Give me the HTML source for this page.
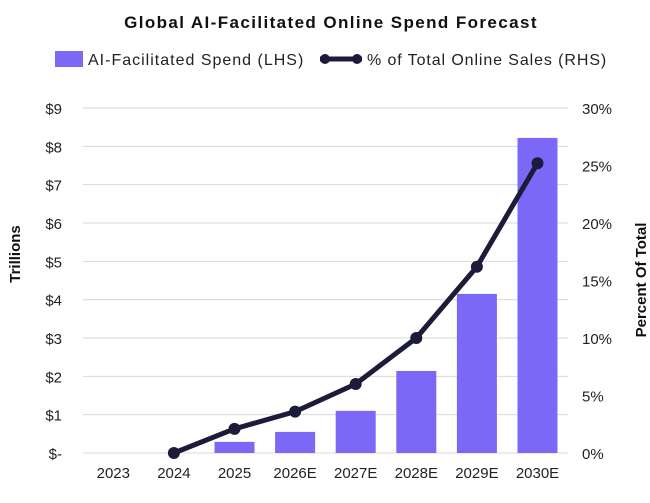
<!DOCTYPE html>
<html><head><meta charset="utf-8"><style>
body{margin:0;background:#fff;width:650px;height:498px;overflow:hidden;font-family:"Liberation Sans",sans-serif}
</style></head><body>
<svg id="c" width="650" height="498" font-family="Liberation Sans, sans-serif">
<text x="331" y="28" text-anchor="middle" font-size="17" letter-spacing="1.4" font-weight="bold" fill="#111">Global AI-Facilitated Online Spend Forecast</text>
<g>
<rect x="55" y="51" width="28" height="16" fill="#7b68f7"/>
<text x="88" y="65" font-size="16" letter-spacing="1" fill="#222">AI-Facilitated Spend (LHS)</text>
<line x1="320" y1="59" x2="362" y2="59" stroke="#1c1b3a" stroke-width="5"/>
<circle cx="325" cy="59" r="5" fill="#1c1b3a"/><circle cx="357" cy="59" r="5" fill="#1c1b3a"/>
<text x="367" y="65" font-size="16" letter-spacing="0.9" fill="#222">% of Total Online Sales (RHS)</text>
</g>
<text transform="translate(20,254) rotate(-90)" text-anchor="middle" font-size="15" font-weight="bold" fill="#111">Trillions</text>
<text transform="translate(646,280) rotate(-90)" text-anchor="middle" font-size="15" font-weight="bold" fill="#111">Percent Of Total</text>
<g id="grid"></g><g id="bars"></g><g id="line"></g><g id="axes"></g>
</svg>
<script>
const categories=["2023","2024","2025","2026E","2027E","2028E","2029E","2030E"];
const spend=[0,0,0.29,0.55,1.1,2.14,4.15,8.22];
const pct=[null,0,2.1,3.6,6.0,10.0,16.2,25.2];
const leftTicks=["$-","$1","$2","$3","$4","$5","$6","$7","$8","$9"];
const rightTicks=["0%","5%","10%","15%","20%","25%","30%"];
const NS="http://www.w3.org/2000/svg";
const y0=453,y1=108,x0=83,step=60.6;
const yL=v=>y0-(v/9)*(y0-y1);
const yR=v=>y0-(v/30)*(y0-y1);
const xC=i=>x0+step*(i+0.5);
function mk(tag,attrs,parent){const e=document.createElementNS(NS,tag);for(const k in attrs)e.setAttribute(k,attrs[k]);document.getElementById(parent).appendChild(e);return e;}
leftTicks.forEach((t,i)=>{
 const g=mk("line",{x1:x0,x2:568,y1:yL(i),y2:yL(i),stroke:"#d9d9d9","stroke-width":1},"grid");
 
 
 const tx=mk("text",{x:62,y:yL(i)+6,"text-anchor":"end","font-size":15,fill:"#222"},"axes");tx.textContent=t;
 
 
});
rightTicks.forEach((t,i)=>{
 const tx=mk("text",{x:582,y:yR(i*5)+6,"font-size":15,fill:"#222"},"axes");tx.textContent=t;
 
 
});
categories.forEach((c,i)=>{
 const tx=mk("text",{x:xC(i),y:478,"text-anchor":"middle","font-size":15,fill:"#222"},"axes");tx.textContent=c;
 
 
 if(spend[i]>0){
  const r=mk("rect",{x:xC(i)-20,y:yL(spend[i]),width:40,height:y0-yL(spend[i]),fill:"#7b68f7"},"bars");
  
  
 }
});
const pts=[];pct.forEach((v,i)=>{if(v!==null)pts.push([xC(i),yR(v)]);});
const pl=mk("polyline",{points:pts.map(p=>p.join(",")).join(" "),fill:"none",stroke:"#1c1b3a","stroke-width":5,"stroke-linejoin":"round"},"line");


pts.forEach(p=>{const c=mk("circle",{cx:p[0],cy:p[1],r:6,fill:"#1c1b3a"},"line");
 
 });
</script>
</body></html>
